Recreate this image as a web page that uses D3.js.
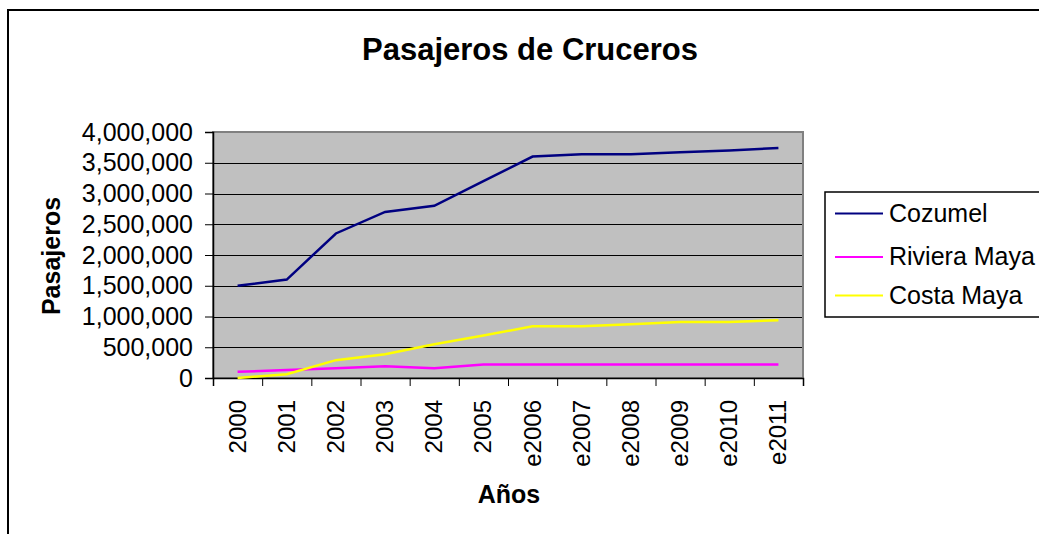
<!DOCTYPE html>
<html>
<head>
<meta charset="utf-8">
<script src="https://cdn.jsdelivr.net/npm/d3@7"></script>
<style>
  html, body { margin: 0; padding: 0; background: #fff; }
  svg { display: block; }
  text { font-family: "Liberation Sans", Arial, sans-serif; fill: #000; }
</style>
</head>
<body>
<script>
const categories = ["2000","2001","2002","2003","2004","2005","e2006","e2007","e2008","e2009","e2010","e2011"];
const cozumel = [1500000,1600000,2350000,2700000,2800000,3200000,3600000,3640000,3640000,3670000,3700000,3740000];
const rivieraMaya = [100000,130000,160000,190000,160000,220000,220000,220000,220000,220000,220000,220000];
const costaMaya = [0,60000,290000,385000,550000,690000,840000,840000,875000,910000,910000,940000];
const yTicks = [0,500000,1000000,1500000,2000000,2500000,3000000,3500000,4000000];
const seriesNames = ["Cozumel","Riviera Maya","Costa Maya"];
const seriesColors = ["#000080","#FF00FF","#FFFF00"];
const seriesValues = [cozumel, rivieraMaya, costaMaya];

const W = 1039, H = 534;
const svg = d3.select("body").append("svg").attr("width", W).attr("height", H);

// outer chart border
svg.append("rect").attr("x", 8).attr("y", 10).attr("width", 1045).attr("height", 540)
  .attr("fill", "#fff").attr("stroke", "#000").attr("stroke-width", 2);

const plot = {left: 213, top: 132, right: 803, bottom: 378};
const x = d3.scaleBand().domain(categories).range([plot.left, plot.right]).padding(0);
const y = d3.scaleLinear().domain([0, 4000000]).range([plot.bottom, plot.top]);

// plot background
svg.append("rect").attr("x", plot.left).attr("y", plot.top)
  .attr("width", plot.right - plot.left).attr("height", plot.bottom - plot.top)
  .attr("fill", "#C0C0C0");

// gridlines
svg.append("g").selectAll("line").data(yTicks.filter(d => d > 0 && d < 4000000)).join("line")
  .attr("x1", plot.left).attr("x2", plot.right)
  .attr("y1", d => Math.round(y(d)) + 0.5).attr("y2", d => Math.round(y(d)) + 0.5)
  .attr("stroke", "#000").attr("stroke-width", 1);

// plot border (gray)
svg.append("rect").attr("x", plot.left).attr("y", plot.top)
  .attr("width", plot.right - plot.left).attr("height", plot.bottom - plot.top)
  .attr("fill", "none").attr("stroke", "#808080").attr("stroke-width", 2);

// y axis
const yAxis = d3.axisLeft(y).tickValues(yTicks).tickSize(8).tickPadding(12)
  .tickFormat(d3.format(","));
const gy = svg.append("g").attr("transform", `translate(${plot.left},0)`).call(yAxis);
gy.select(".domain").attr("stroke", "#000").attr("stroke-width", 1.5);
gy.selectAll(".tick line").attr("stroke", "#000");
gy.selectAll(".tick text").style("font-size", "25px").style("font-family", '"Liberation Sans", Arial, sans-serif').attr("fill", "#000");

// x axis: ticks at category boundaries
const xb = d3.scaleLinear().domain([0, categories.length]).range([plot.left, plot.right]);
const gx = svg.append("g").attr("transform", `translate(0,${plot.bottom})`)
  .call(d3.axisBottom(xb).tickValues(d3.range(0, categories.length + 1)).tickSize(8).tickFormat(""));
gx.select(".domain").attr("stroke", "#000").attr("stroke-width", 1.5);
gx.selectAll(".tick line").attr("stroke", "#000");

// x labels rotated
svg.append("g").selectAll("text").data(categories).join("text")
  .attr("transform", d => `translate(${x(d) + x.bandwidth() / 2 + 8},400) rotate(-90)`)
  .attr("text-anchor", "end")
  .style("font-size", "24px")
  .text(d => d);

// lines
const line = d3.line().x((d, i) => x(categories[i]) + x.bandwidth() / 2).y(d => y(d));
seriesValues.forEach((vals, k) => {
  svg.append("path").datum(vals).attr("d", line)
    .attr("fill", "none").attr("stroke", seriesColors[k]).attr("stroke-width", 2.5)
    .attr("stroke-linejoin", "miter");
});

// title
svg.append("text").attr("x", 530).attr("y", 60).attr("text-anchor", "middle")
  .style("font-size", "31px").style("font-weight", "bold").text("Pasajeros de Cruceros");

// axis titles
svg.append("text").attr("transform", "translate(60,256) rotate(-90)").attr("text-anchor", "middle")
  .style("font-size", "25px").style("font-weight", "bold").text("Pasajeros");
svg.append("text").attr("x", 509).attr("y", 503).attr("text-anchor", "middle")
  .style("font-size", "25px").style("font-weight", "bold").text("Años");

// legend
const lg = svg.append("g");
lg.append("rect").attr("x", 825).attr("y", 192).attr("width", 230).attr("height", 125)
  .attr("fill", "#fff").attr("stroke", "#000").attr("stroke-width", 1.5);
const rowY = [221.5, 265, 303.5];
seriesNames.forEach((name, k) => {
  lg.append("line").attr("x1", 835).attr("x2", 883)
    .attr("y1", rowY[k] - 8).attr("y2", rowY[k] - 8)
    .attr("stroke", seriesColors[k]).attr("stroke-width", 2);
  lg.append("text").attr("x", 889).attr("y", rowY[k]).style("font-size", "25px").text(name);
});
</script>
</body>
</html>
